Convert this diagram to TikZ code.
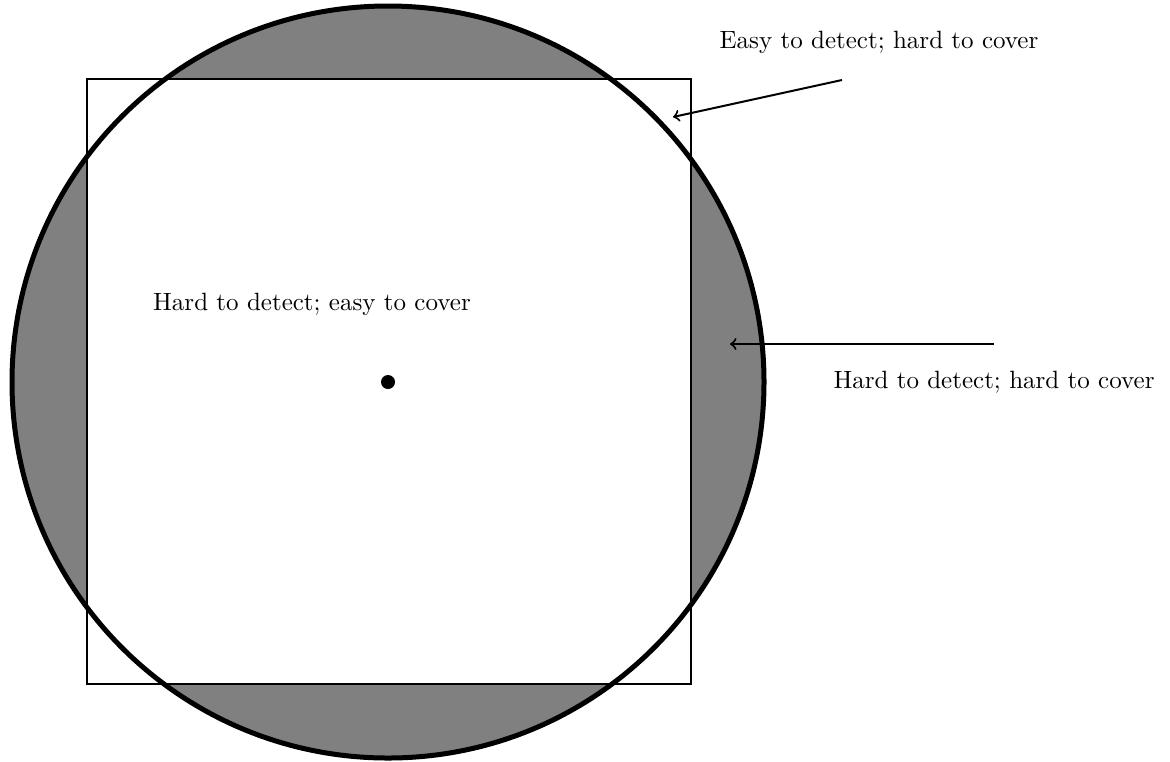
\documentclass[tikz,border=0pt]{standalone}
\begin{document}
\begin{tikzpicture}[x=0.4pt, y=-0.4pt, >=to,
    zone/.style={inner sep=0pt},
    pointer/.style={->, thick}]
  \useasboundingbox (0,0) rectangle (1170,761);
  \coordinate (centre) at (388,382);
  % shaded ring outside the square
  \fill[gray] (centre) circle[radius=376];
  \filldraw[fill=white, thick] (87,79) rectangle (691,684);
  \draw[line width=2pt] (centre) circle[radius=376];
  \node[circle, fill=black, inner sep=0pt, minimum size=5.6pt] (dot) at (centre) {};
  % labels
  \node[zone] (easy) at (312,304) {Hard to detect; easy to cover};
  \node[zone] (tophard) at (879,42) {Easy to detect; hard to cover};
  \node[zone] (sidehard) at (994,382) {Hard to detect; hard to cover};
  % pointers
  \coordinate (toptail) at (842,80);
  \coordinate (tophead) at (673,117);
  \coordinate (sidetail) at (994,344);
  \coordinate (sidehead) at (730,344);
  \draw[pointer] (toptail) -- (tophead);
  \draw[pointer] (sidetail) -- (sidehead);
\end{tikzpicture}
\end{document}
